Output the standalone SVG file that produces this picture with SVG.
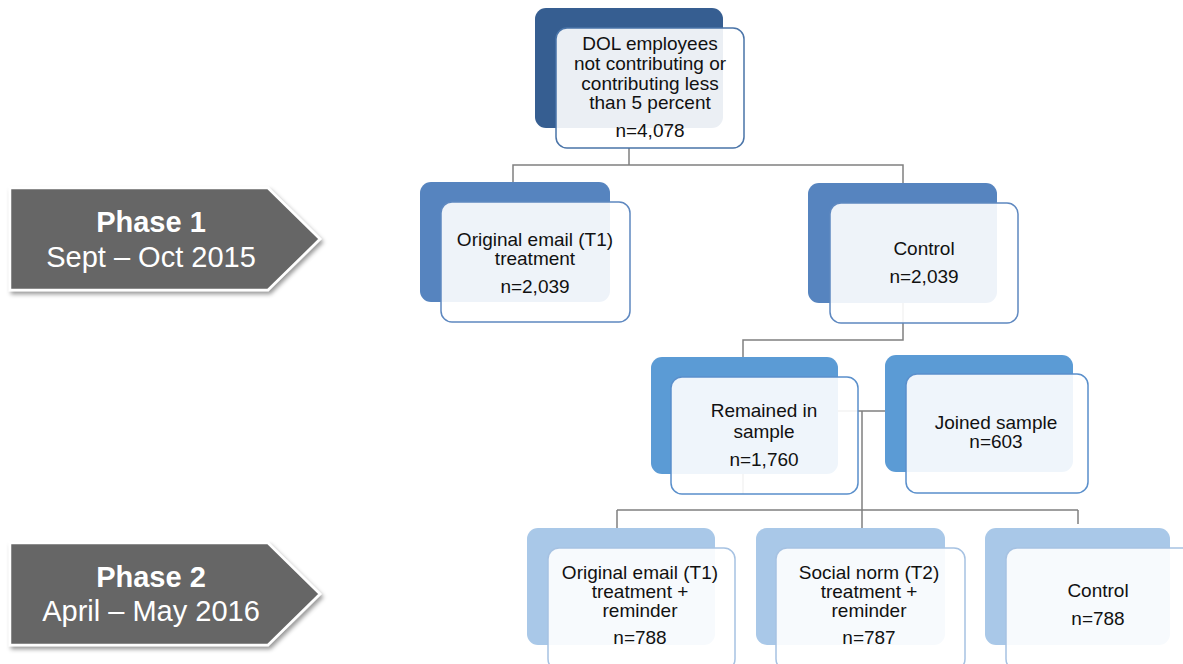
<svg xmlns="http://www.w3.org/2000/svg" width="1183" height="664" viewBox="0 0 1183 664">
<defs>
<filter id="sh" x="-10%" y="-10%" width="130%" height="140%">
<feDropShadow dx="2" dy="3" stdDeviation="2" flood-color="#000" flood-opacity="0.4"/>
</filter>
</defs>
<style>
.conn{fill:none;stroke:#808080;stroke-width:1.5}
.front{fill:#fff;fill-opacity:0.9;stroke-width:1.5}
.t{font-family:"Liberation Sans",Arial,sans-serif;font-size:19px;fill:#111;text-anchor:middle}
.ph{fill:#666;stroke:#fff;stroke-width:2.5;filter:url(#sh)}
.pt{font-family:"Liberation Sans",Arial,sans-serif;font-size:29px;fill:#fff;text-anchor:middle}
.l1b{fill:#365E91}.l1f{stroke:#4A74A8}
.l2b{fill:#5684BF}.l2f{stroke:#5E88C0}
.l3b{fill:#5B9BD5}.l3f{stroke:#5A8FCB}
.l4b{fill:#A9C8E8}.l4f{stroke:#A6C2E2}
</style>
<g id="connectors">
<path class="conn" d="M629,148 V165 H513 V182 M629,165 H903 V183"/>
<path class="conn" d="M903,300 V340 H743 V494"/>
<path class="conn" d="M838,411 H885 M862,411 V510 M617,510 H1078 M617,510 V528 M862,510 V528 M1078,510 V524"/>
</g>
<g id="phase1">
<path class="ph" d="M10,188 H268 L320,239 L268,290 H10 Z"/>
<text class="pt" x="151" y="232" font-weight="bold">Phase 1</text>
<text class="pt" x="151" y="267">Sept – Oct 2015</text>
</g>
<g id="phase2">
<path class="ph" d="M10,543 H268 L320,594 L268,645 H10 Z"/>
<text class="pt" x="151" y="587" font-weight="bold">Phase 2</text>
<text class="pt" x="151" y="621">April – May 2016</text>
</g>
<g id="n-top">
<rect class="l1b" x="535" y="8" width="188" height="120" rx="11"/>
<rect class="front l1f" x="556" y="28" width="188" height="120" rx="11"/>
<text class="t" x="650" y="50">DOL employees</text>
<text class="t" x="650" y="70">not contributing or</text>
<text class="t" x="650" y="90">contributing less</text>
<text class="t" x="650" y="109">than 5 percent</text>
<text class="t" x="650" y="137">n=4,078</text>
</g>
<g id="n-t1">
<rect class="l2b" x="420" y="182" width="190" height="120" rx="11"/>
<rect class="front l2f" x="441" y="202" width="189" height="120" rx="11"/>
<text class="t" x="535" y="246">Original email (T1)</text>
<text class="t" x="535" y="265">treatment</text>
<text class="t" x="535" y="293">n=2,039</text>
</g>
<g id="n-control1">
<rect class="l2b" x="808" y="183" width="189" height="120" rx="11"/>
<rect class="front l2f" x="830" y="203" width="188" height="120" rx="11"/>
<text class="t" x="924" y="255">Control</text>
<text class="t" x="924" y="283">n=2,039</text>
</g>
<g id="n-remained">
<rect class="l3b" x="651" y="357" width="187" height="117" rx="11"/>
<rect class="front l3f" x="671" y="377" width="187" height="117" rx="11"/>
<text class="t" x="764" y="417">Remained in</text>
<text class="t" x="764" y="438">sample</text>
<text class="t" x="764" y="466">n=1,760</text>
</g>
<g id="n-joined">
<rect class="l3b" x="885" y="355" width="188" height="117" rx="11"/>
<rect class="front l3f" x="906" y="374" width="182" height="119" rx="11"/>
<text class="t" x="996" y="429">Joined sample</text>
<text class="t" x="996" y="448">n=603</text>
</g>
<g id="n-t1r">
<rect class="l4b" x="527" y="528" width="188" height="117" rx="11"/>
<rect class="front l4f" x="548" y="548" width="187" height="122" rx="11"/>
<text class="t" x="640" y="579">Original email (T1)</text>
<text class="t" x="640" y="598">treatment +</text>
<text class="t" x="640" y="617">reminder</text>
<text class="t" x="640" y="644">n=788</text>
</g>
<g id="n-t2r">
<rect class="l4b" x="756" y="528" width="189" height="117" rx="11"/>
<rect class="front l4f" x="776" y="548" width="189" height="122" rx="11"/>
<text class="t" x="869" y="579">Social norm (T2)</text>
<text class="t" x="869" y="598">treatment +</text>
<text class="t" x="869" y="617">reminder</text>
<text class="t" x="869" y="644">n=787</text>
</g>
<g id="n-control2">
<rect class="l4b" x="985" y="528" width="185" height="117" rx="11"/>
<rect class="front l4f" x="1006" y="548" width="190" height="122" rx="11"/>
<text class="t" x="1098" y="597">Control</text>
<text class="t" x="1098" y="625">n=788</text>
</g>
</svg>
